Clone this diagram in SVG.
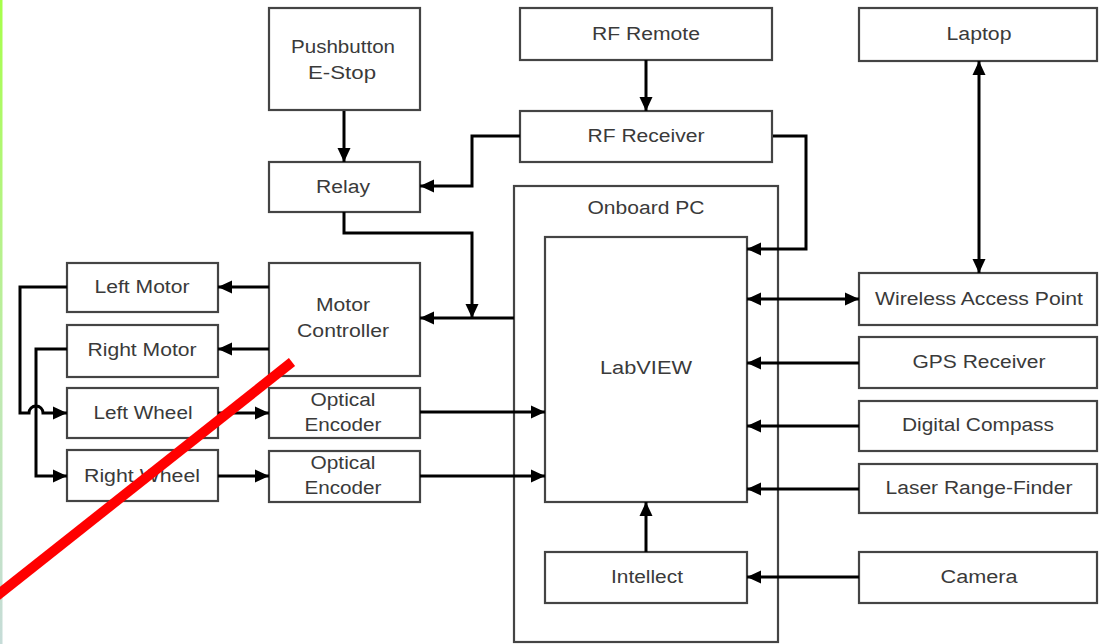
<svg xmlns="http://www.w3.org/2000/svg" width="1099" height="644" viewBox="0 0 1099 644">
<defs>
<linearGradient id="edge" x1="0" y1="0" x2="0" y2="1">
<stop offset="0" stop-color="#a6ff4a"/>
<stop offset="0.6" stop-color="#bfeab0"/>
<stop offset="1" stop-color="#c6dcd8"/>
</linearGradient>
<marker id="ah" viewBox="0 0 14 14" markerWidth="14" markerHeight="14" refX="14" refY="7" orient="auto-start-reverse" markerUnits="userSpaceOnUse">
<path d="M0,0.5 L14,7 L0,13.5 z" fill="#000"/>
</marker>
<style>
.box{fill:#fff;stroke:#444;stroke-width:2.2}
.t{font-family:"Liberation Sans",Arial,sans-serif;font-size:18px;fill:#3a3a3a;text-anchor:middle}
.c{fill:none;stroke:#000;stroke-width:3}
.a{marker-end:url(#ah)}
.b{marker-start:url(#ah);marker-end:url(#ah)}
</style>
</defs>
<rect width="1099" height="644" fill="#fff"/>
<rect x="0" y="0" width="2.5" height="644" fill="url(#edge)"/>

<g id="onboard-pc"><rect class="box" x="514" y="186" width="264" height="456"/><text class="t" x="646" y="214" textLength="117" lengthAdjust="spacingAndGlyphs">Onboard PC</text></g>
<g id="pushbutton"><rect class="box" x="269" y="8" width="151" height="102"/><text class="t" x="343" y="53" textLength="104" lengthAdjust="spacingAndGlyphs">Pushbutton</text><text class="t" x="342" y="79" textLength="68" lengthAdjust="spacingAndGlyphs">E-Stop</text></g>
<g id="relay"><rect class="box" x="269" y="162" width="151" height="50"/><text class="t" x="343" y="193" textLength="54" lengthAdjust="spacingAndGlyphs">Relay</text></g>
<g id="rf-remote"><rect class="box" x="520" y="8" width="252" height="52"/><text class="t" x="646" y="40" textLength="108" lengthAdjust="spacingAndGlyphs">RF Remote</text></g>
<g id="rf-receiver"><rect class="box" x="520" y="111" width="252" height="51"/><text class="t" x="646" y="142" textLength="117" lengthAdjust="spacingAndGlyphs">RF Receiver</text></g>
<g id="laptop"><rect class="box" x="859" y="8" width="238" height="53"/><text class="t" x="979" y="40" textLength="65" lengthAdjust="spacingAndGlyphs">Laptop</text></g>
<g id="wap"><rect class="box" x="859" y="273" width="238" height="52"/><text class="t" x="979" y="305" textLength="208" lengthAdjust="spacingAndGlyphs">Wireless Access Point</text></g>
<g id="gps"><rect class="box" x="859" y="337" width="238" height="51"/><text class="t" x="979" y="368" textLength="133" lengthAdjust="spacingAndGlyphs">GPS Receiver</text></g>
<g id="compass"><rect class="box" x="859" y="401" width="238" height="50"/><text class="t" x="978" y="431" textLength="152" lengthAdjust="spacingAndGlyphs">Digital Compass</text></g>
<g id="laser"><rect class="box" x="859" y="464" width="238" height="49"/><text class="t" x="979" y="494" textLength="187" lengthAdjust="spacingAndGlyphs">Laser Range-Finder</text></g>
<g id="camera"><rect class="box" x="859" y="552" width="238" height="51"/><text class="t" x="979" y="583" textLength="77" lengthAdjust="spacingAndGlyphs">Camera</text></g>
<g id="labview"><rect class="box" x="545" y="237" width="202" height="265"/><text class="t" x="646" y="374" textLength="92" lengthAdjust="spacingAndGlyphs">LabVIEW</text></g>
<g id="intellect"><rect class="box" x="545" y="552" width="202" height="51"/><text class="t" x="647" y="583" textLength="72" lengthAdjust="spacingAndGlyphs">Intellect</text></g>
<g id="motor-controller"><rect class="box" x="269" y="263" width="151" height="113"/><text class="t" x="343" y="311" textLength="54" lengthAdjust="spacingAndGlyphs">Motor</text><text class="t" x="343" y="337" textLength="92" lengthAdjust="spacingAndGlyphs">Controller</text></g>
<g id="encoder1"><rect class="box" x="269" y="388" width="151" height="50"/><text class="t" x="343" y="406" textLength="65" lengthAdjust="spacingAndGlyphs">Optical</text><text class="t" x="343" y="431" textLength="77" lengthAdjust="spacingAndGlyphs">Encoder</text></g>
<g id="encoder2"><rect class="box" x="269" y="451" width="151" height="51"/><text class="t" x="343" y="469" textLength="65" lengthAdjust="spacingAndGlyphs">Optical</text><text class="t" x="343" y="494" textLength="77" lengthAdjust="spacingAndGlyphs">Encoder</text></g>
<g id="left-motor"><rect class="box" x="67" y="263" width="151" height="49"/><text class="t" x="142" y="293" textLength="95" lengthAdjust="spacingAndGlyphs">Left Motor</text></g>
<g id="right-motor"><rect class="box" x="67" y="325" width="151" height="52"/><text class="t" x="142" y="356" textLength="109" lengthAdjust="spacingAndGlyphs">Right Motor</text></g>
<g id="left-wheel"><rect class="box" x="67" y="388" width="151" height="50"/><text class="t" x="143" y="419" textLength="99" lengthAdjust="spacingAndGlyphs">Left Wheel</text></g>
<g id="right-wheel"><rect class="box" x="67" y="450" width="151" height="51"/><text class="t" x="142" y="482" textLength="116" lengthAdjust="spacingAndGlyphs">Right Wheel</text></g>

<g id="connectors">
<path class="c a" d="M344,111 V162"/>
<path class="c a" d="M646,60 V111"/>
<path class="c a" d="M520,136 H472 V186 H420"/>
<path class="c a" d="M773,136 H806 V249 H747"/>
<path class="c a" d="M344,212 V233 H472 V318"/>
<path class="c a" d="M514,318 H420"/>
<path class="c a" d="M269,287 H218"/>
<path class="c a" d="M269,349 H218"/>
<path class="c a" d="M67,287 H20 V413 H29 A7,7 0 0 1 43,413 H67"/>
<path class="c a" d="M67,349 H36 V476 H67"/>
<path class="c a" d="M218,413 H269"/>
<path class="c a" d="M218,476 H269"/>
<path class="c a" d="M420,412 H545"/>
<path class="c a" d="M420,476 H545"/>
<path class="c b" d="M979,61 V273"/>
<path class="c b" d="M747,299 H859"/>
<path class="c a" d="M859,363 H747"/>
<path class="c a" d="M859,426 H747"/>
<path class="c a" d="M859,489 H747"/>
<path class="c a" d="M859,577 H747"/>
<path class="c a" d="M646,552 V502"/>
</g>

<line x1="292" y1="362" x2="-6" y2="598" stroke="#f00" stroke-width="10"/>
</svg>
